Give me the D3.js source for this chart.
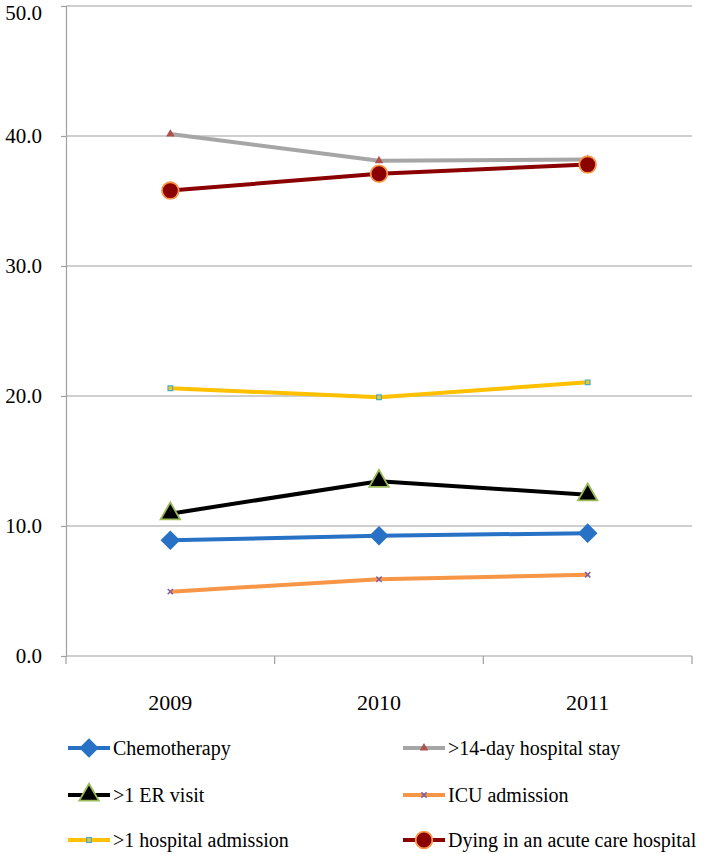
<!DOCTYPE html>
<html>
<head>
<meta charset="utf-8">
<script src="https://cdn.jsdelivr.net/npm/d3@7"></script>
<style>
  html, body { margin: 0; padding: 0; background: #fff; }
  svg { display: block; }
  svg text { font-family: 'Liberation Serif', 'Tinos', 'DejaVu Serif', serif !important; fill: #000; }
</style>
</head>
<body>
<svg id="chart" width="705" height="854"></svg>
<script>
// ---- data ----
const years = ["2009", "2010", "2011"];
const chemotherapy = [8.9, 9.25, 9.45];
const stay14 = [40.15, 38.1, 38.2];
const erVisit = [10.95, 13.45, 12.4];
const icuAdmission = [4.95, 5.9, 6.25];
const hospitalAdmission = [20.6, 19.9, 21.05];
const dyingAcute = [35.8, 37.1, 37.8];
const yTicks = [0, 10, 20, 30, 40, 50];
const seriesNames = ["Chemotherapy", ">14-day hospital stay", ">1 ER visit", "ICU admission", ">1 hospital admission", "Dying in an acute care hospital"];

// ---- styles ----
const styles = [
  { values: chemotherapy, color: "#2872C6", marker: "diamond", mFill: "#2872C6", mStroke: "#2872C6", mSize: 145 },
  { values: stay14, color: "#A6A6A6", marker: "triangle", mFill: "#B0504D", mStroke: "#B0504D", mSize: 18 },
  { values: erVisit, color: "#000000", marker: "triangle", mFill: "#000000", mStroke: "#9BBB59", mSize: 165 },
  { values: icuAdmission, color: "#F79646", marker: "x", mFill: "#7F60A0", mStroke: "#7F60A0", mSize: 20 },
  { values: hospitalAdmission, color: "#FFC000", marker: "square", mFill: "#E8C830", mStroke: "#4BACC6", mSize: 22 },
  { values: dyingAcute, color: "#8B0000", marker: "circle", mFill: "#8B0000", mStroke: "#F79646", mSize: 220 }
];

const svg = d3.select("#chart");
const plotL = 66, plotR = 692, plotT = 6, plotB = 656;
const FONT = "'Liberation Serif', 'Tinos', 'DejaVu Serif', serif";

const x = d3.scaleBand().domain(years).range([plotL, plotR]);
const y = d3.scaleLinear().domain([0, 50]).range([plotB, plotT]);

// gridlines
svg.append("g").selectAll("line").data(yTicks.filter(d => d > 0)).join("line")
  .attr("x1", plotL).attr("x2", plotR)
  .attr("y1", d => y(d)).attr("y2", d => y(d))
  .attr("stroke", "#A0A0A0").attr("stroke-width", 1.2);

// y axis
const yAxis = svg.append("g").attr("transform", `translate(${plotL},0)`)
  .call(d3.axisLeft(y).tickValues(yTicks).tickFormat(d3.format(".1f")).tickSize(5).tickPadding(19));
yAxis.attr("font-family", null).attr("font-size", null);
yAxis.select(".domain").attr("stroke", "#A0A0A0").attr("stroke-width", 1.2);
yAxis.selectAll(".tick line").attr("stroke", "#A0A0A0").attr("stroke-width", 1.2);
yAxis.selectAll(".tick text").style("font-family", FONT).style("font-size", "21px").attr("fill", "#000")
  .attr("dy", d => d === 50 ? "0.62em" : "0.32em");

// x axis
const xAxis = svg.append("g").attr("transform", `translate(0,${plotB})`)
  .call(d3.axisBottom(x).tickSize(0).tickPadding(38));
xAxis.attr("font-family", null).attr("font-size", null);
xAxis.select(".domain").remove();
xAxis.selectAll(".tick text").style("font-family", FONT).style("font-size", "22px").attr("fill", "#000");
svg.append("line").attr("x1", plotL).attr("x2", plotR).attr("y1", plotB).attr("y2", plotB)
  .attr("stroke", "#A0A0A0").attr("stroke-width", 1.2);
const bounds = years.map(d => x(d)).concat([x(years[years.length - 1]) + x.bandwidth()]);
svg.append("g").selectAll("line").data(bounds).join("line")
  .attr("x1", d => d).attr("x2", d => d).attr("y1", plotB).attr("y2", plotB + 8)
  .attr("stroke", "#A0A0A0").attr("stroke-width", 1.2);

function symbolFor(s) {
  const t = { diamond: d3.symbolSquare, triangle: d3.symbolTriangle, x: d3.symbolTimes, square: d3.symbolSquare, circle: d3.symbolCircle }[s.marker];
  return d3.symbol().type(t).size(s.mSize)();
}
const rot = s => s.marker === "diamond" ? " rotate(45)" : "";
const sw = s => s.marker === "x" ? 1.5 : (s.mSize > 100 ? 1.8 : 1.2);

const line = d3.line().x((d, i) => x(years[i]) + x.bandwidth() / 2).y(d => y(d));

// series
styles.forEach((s, k) => {
  const g = svg.append("g");
  g.append("path").datum(s.values).attr("d", line)
    .attr("fill", "none").attr("stroke", s.color).attr("stroke-width", 4).attr("stroke-linejoin", "round");
  g.selectAll("path.m").data(s.values).join("path").attr("class", "m")
    .attr("transform", (d, i) => `translate(${x(years[i]) + x.bandwidth() / 2},${y(d)})` + rot(s))
    .attr("d", symbolFor(s))
    .attr("fill", s.mFill).attr("stroke", s.mStroke).attr("stroke-width", sw(s));
});

// legend
const legX = [68, 403], legY = [748, 795, 840];
styles.forEach((s, k) => {
  const lx = legX[k % 2], ly = legY[Math.floor(k / 2)];
  const g = svg.append("g").attr("transform", `translate(${lx},${ly})`);
  g.append("line").attr("x1", 0).attr("x2", 42).attr("y1", 0).attr("y2", 0)
    .attr("stroke", s.color).attr("stroke-width", 4);
  g.append("path").attr("transform", "translate(21,0)" + rot(s)).attr("d", symbolFor(s))
    .attr("fill", s.mFill).attr("stroke", s.mStroke).attr("stroke-width", sw(s));
  g.append("text").attr("x", 45).attr("y", 0).attr("dy", "0.35em")
    .style("font-family", FONT).style("font-size", "20px").text(seriesNames[k]);
});
</script>
</body>
</html>
